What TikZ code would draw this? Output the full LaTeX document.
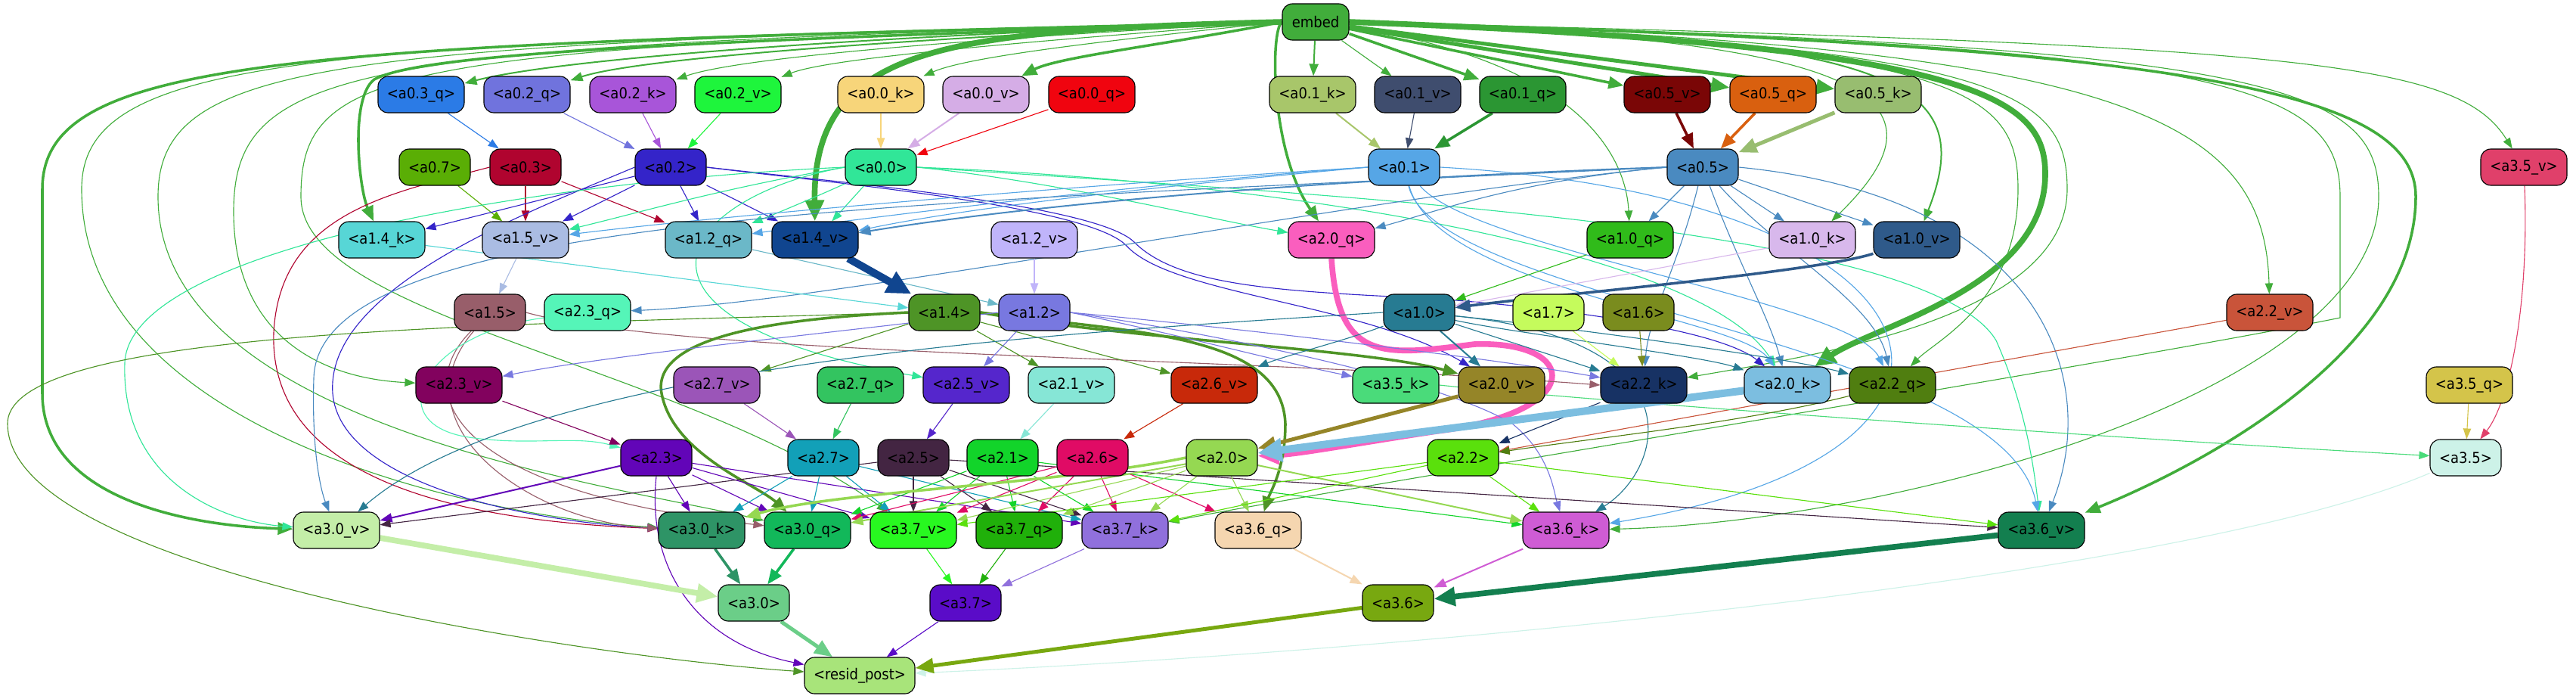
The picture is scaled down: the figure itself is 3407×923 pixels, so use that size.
\documentclass[tikz,border=0pt]{standalone}
\usepackage{fontspec}
\setmainfont{DejaVu Sans}[FakeStretch=0.9]
\usetikzlibrary{arrows.meta}
\pgfdeclarelayer{background}
\pgfsetlayers{background,main}
\definecolor{cembed}{HTML}{41AD3B}
\definecolor{cA03q}{HTML}{2B7BE6}
\definecolor{cA02q}{HTML}{7073DD}
\definecolor{cA02k}{HTML}{A855D9}
\definecolor{cA02v}{HTML}{1EF53C}
\definecolor{cA00k}{HTML}{F7D57A}
\definecolor{cA00v}{HTML}{D5ADE6}
\definecolor{cA00q}{HTML}{F0040F}
\definecolor{cA01k}{HTML}{A8C66A}
\definecolor{cA01v}{HTML}{3F4D6E}
\definecolor{cA01q}{HTML}{2B9633}
\definecolor{cA05v}{HTML}{7A0606}
\definecolor{cA05q}{HTML}{D9600F}
\definecolor{cA05k}{HTML}{98BD70}
\definecolor{cA07}{HTML}{5AAE05}
\definecolor{cA03}{HTML}{B0042F}
\definecolor{cA02}{HTML}{3424C9}
\definecolor{cA00}{HTML}{31E698}
\definecolor{cA01}{HTML}{56A6E6}
\definecolor{cA05}{HTML}{4A8AC0}
\definecolor{cA35v}{HTML}{E0406A}
\definecolor{cA14k}{HTML}{57D6D6}
\definecolor{cA15v}{HTML}{AABCE3}
\definecolor{cA12q}{HTML}{6BB8C8}
\definecolor{cA14v}{HTML}{10458F}
\definecolor{cA12v}{HTML}{C0B4FA}
\definecolor{cA20q}{HTML}{FA5EBE}
\definecolor{cA10q}{HTML}{30BB1A}
\definecolor{cA10k}{HTML}{D8B8EC}
\definecolor{cA10v}{HTML}{2F5A8A}
\definecolor{cA15}{HTML}{985E6A}
\definecolor{cA23q}{HTML}{55F5B8}
\definecolor{cA14}{HTML}{4E9426}
\definecolor{cA12}{HTML}{7878E0}
\definecolor{cA10}{HTML}{277B92}
\definecolor{cA17}{HTML}{C5FB5C}
\definecolor{cA16}{HTML}{7A8C1E}
\definecolor{cA22v}{HTML}{C9543A}
\definecolor{cA23v}{HTML}{82025E}
\definecolor{cA27v}{HTML}{9B55B8}
\definecolor{cA27q}{HTML}{33C460}
\definecolor{cA25v}{HTML}{5526CC}
\definecolor{cA21v}{HTML}{86E6D6}
\definecolor{cA26v}{HTML}{C8290A}
\definecolor{cA35k}{HTML}{4ADB7A}
\definecolor{cA20v}{HTML}{958528}
\definecolor{cA22k}{HTML}{173264}
\definecolor{cA20k}{HTML}{7CBEE0}
\definecolor{cA22q}{HTML}{507E10}
\definecolor{cA35q}{HTML}{D4C44A}
\definecolor{cA23}{HTML}{6205B8}
\definecolor{cA27}{HTML}{12A0B8}
\definecolor{cA25}{HTML}{432542}
\definecolor{cA21}{HTML}{12D42A}
\definecolor{cA26}{HTML}{E00B65}
\definecolor{cA20}{HTML}{95D852}
\definecolor{cA22}{HTML}{5AE00C}
\definecolor{cA35}{HTML}{CDF2E8}
\definecolor{cA30v}{HTML}{C4EEA8}
\definecolor{cA30k}{HTML}{2E9466}
\definecolor{cA30q}{HTML}{12B85A}
\definecolor{cA37v}{HTML}{28F820}
\definecolor{cA37q}{HTML}{20B00A}
\definecolor{cA37k}{HTML}{9070DC}
\definecolor{cA36q}{HTML}{F5D6B0}
\definecolor{cA36k}{HTML}{CF5CD4}
\definecolor{cA36v}{HTML}{137F4F}
\definecolor{cA30}{HTML}{6BCE88}
\definecolor{cA37}{HTML}{5A0CC8}
\definecolor{cA36}{HTML}{78A810}
\definecolor{cresid}{HTML}{A8E47A}
\newcommand{\nlab}[1]{\textless#1\textgreater}
\begin{document}
\begin{tikzpicture}[x=0.25pt,y=0.25pt,
  nd/.style={draw=black, line width=0.28pt, rounded corners=3.3pt, minimum height=12pt, inner sep=0pt, font=\fontsize{5}{6}\selectfont, text=black},
  qw/.style={nd, minimum width=28.5pt},
  hw/.style={nd, minimum width=23.5pt},
  w1/.style={line width=0.28pt, -{Triangle[length=3.5pt,width=2.6pt]}},
  w2/.style={line width=0.5pt, -{Triangle[length=4pt,width=3pt]}},
  w3/.style={line width=0.88pt, -{Triangle[length=5pt,width=4pt]}},
  w5/.style={line width=1.25pt, -{Triangle[length=6pt,width=4.8pt]}},
  w7/.style={line width=1.9pt, -{Triangle[length=7pt,width=6pt]}},
  w10/.style={line width=2.5pt, -{Triangle[length=8pt,width=7.5pt]}}
]
\useasboundingbox (0,0) rectangle (3407,-923);
% nodes
\node[nd, minimum width=22pt, fill=cembed] (embed) at (1740,-29) {embed};
\node[qw, fill=cA03q] (a03q) at (557,-125) {\nlab{a0.3\_q}};
\node[qw, fill=cA02q] (a02q) at (697,-125) {\nlab{a0.2\_q}};
\node[qw, fill=cA02k] (a02k) at (837,-125) {\nlab{a0.2\_k}};
\node[qw, fill=cA02v] (a02v) at (976,-125) {\nlab{a0.2\_v}};
\node[qw, fill=cA00k] (a00k) at (1165,-125) {\nlab{a0.0\_k}};
\node[qw, fill=cA00v] (a00v) at (1304,-125) {\nlab{a0.0\_v}};
\node[qw, fill=cA00q] (a00q) at (1444,-125) {\nlab{a0.0\_q}};
\node[qw, fill=cA01k] (a01k) at (1736,-125) {\nlab{a0.1\_k}};
\node[qw, fill=cA01v] (a01v) at (1875,-125) {\nlab{a0.1\_v}};
\node[qw, fill=cA01q] (a01q) at (2014,-125) {\nlab{a0.1\_q}};
\node[qw, fill=cA05v] (a05v) at (2205,-125) {\nlab{a0.5\_v}};
\node[qw, fill=cA05q] (a05q) at (2345,-125) {\nlab{a0.5\_q}};
\node[qw, fill=cA05k] (a05k) at (2484,-125) {\nlab{a0.5\_k}};
\node[hw, fill=cA07] (a07) at (575,-221) {\nlab{a0.7}};
\node[hw, fill=cA03] (a03) at (695,-221) {\nlab{a0.3}};
\node[hw, fill=cA02] (a02) at (887,-221) {\nlab{a0.2}};
\node[hw, fill=cA00] (a00) at (1165,-221) {\nlab{a0.0}};
\node[hw, fill=cA01] (a01) at (1857,-221) {\nlab{a0.1}};
\node[hw, fill=cA05] (a05) at (2252,-221) {\nlab{a0.5}};
\node[qw, fill=cA35v] (a35v) at (3338,-221) {\nlab{a3.5\_v}};
\node[qw, fill=cA14k] (a14k) at (505,-317) {\nlab{a1.4\_k}};
\node[qw, fill=cA15v] (a15v) at (695,-317) {\nlab{a1.5\_v}};
\node[qw, fill=cA12q] (a12q) at (937,-317) {\nlab{a1.2\_q}};
\node[qw, fill=cA14v] (a14v) at (1078,-317) {\nlab{a1.4\_v}};
\node[qw, fill=cA12v] (a12v) at (1368,-317) {\nlab{a1.2\_v}};
\node[qw, fill=cA20q] (a20q) at (1761,-317) {\nlab{a2.0\_q}};
\node[qw, fill=cA10q] (a10q) at (2156,-317) {\nlab{a1.0\_q}};
\node[qw, fill=cA10k] (a10k) at (2397,-317) {\nlab{a1.0\_k}};
\node[qw, fill=cA10v] (a10v) at (2535,-317) {\nlab{a1.0\_v}};
\node[hw, fill=cA15] (a15) at (648,-413) {\nlab{a1.5}};
\node[qw, fill=cA23q] (a23q) at (777,-413) {\nlab{a2.3\_q}};
\node[hw, fill=cA14] (a14) at (1249,-413) {\nlab{a1.4}};
\node[hw, fill=cA12] (a12) at (1368,-413) {\nlab{a1.2}};
\node[hw, fill=cA10] (a10) at (1877,-413) {\nlab{a1.0}};
\node[hw, fill=cA17] (a17) at (2048,-413) {\nlab{a1.7}};
\node[hw, fill=cA16] (a16) at (2167,-413) {\nlab{a1.6}};
\node[qw, fill=cA22v] (a22v) at (3002,-413) {\nlab{a2.2\_v}};
\node[qw, fill=cA23v] (a23v) at (607,-509) {\nlab{a2.3\_v}};
\node[qw, fill=cA27v] (a27v) at (948,-509) {\nlab{a2.7\_v}};
\node[qw, fill=cA27q] (a27q) at (1138,-509) {\nlab{a2.7\_q}};
\node[qw, fill=cA25v] (a25v) at (1278,-509) {\nlab{a2.5\_v}};
\node[qw, fill=cA21v] (a21v) at (1417,-509) {\nlab{a2.1\_v}};
\node[qw, fill=cA26v] (a26v) at (1606,-509) {\nlab{a2.6\_v}};
\node[qw, fill=cA35k] (a35k) at (1846,-509) {\nlab{a3.5\_k}};
\node[qw, fill=cA20v] (a20v) at (1986,-509) {\nlab{a2.0\_v}};
\node[qw, fill=cA22k] (a22k) at (2174,-509) {\nlab{a2.2\_k}};
\node[qw, fill=cA20k] (a20k) at (2364,-509) {\nlab{a2.0\_k}};
\node[qw, fill=cA22q] (a22q) at (2503,-509) {\nlab{a2.2\_q}};
\node[qw, fill=cA35q] (a35q) at (3266,-509) {\nlab{a3.5\_q}};
\node[hw, fill=cA23] (a23) at (868,-605) {\nlab{a2.3}};
\node[hw, fill=cA27] (a27) at (1089,-605) {\nlab{a2.7}};
\node[hw, fill=cA25] (a25) at (1208,-605) {\nlab{a2.5}};
\node[hw, fill=cA21] (a21) at (1326,-605) {\nlab{a2.1}};
\node[hw, fill=cA26] (a26) at (1445,-605) {\nlab{a2.6}};
\node[hw, fill=cA20] (a20) at (1616,-605) {\nlab{a2.0}};
\node[hw, fill=cA22] (a22) at (1935,-605) {\nlab{a2.2}};
\node[hw, fill=cA35] (a35) at (3261,-605) {\nlab{a3.5}};
\node[qw, fill=cA30v] (a30v) at (445,-701) {\nlab{a3.0\_v}};
\node[qw, fill=cA30k] (a30k) at (928,-701) {\nlab{a3.0\_k}};
\node[qw, fill=cA30q] (a30q) at (1068,-701) {\nlab{a3.0\_q}};
\node[qw, fill=cA37v] (a37v) at (1208,-701) {\nlab{a3.7\_v}};
\node[qw, fill=cA37q] (a37q) at (1348,-701) {\nlab{a3.7\_q}};
\node[qw, fill=cA37k] (a37k) at (1488,-701) {\nlab{a3.7\_k}};
\node[qw, fill=cA36q] (a36q) at (1664,-701) {\nlab{a3.6\_q}};
\node[qw, fill=cA36k] (a36k) at (2071,-701) {\nlab{a3.6\_k}};
\node[qw, fill=cA36v] (a36v) at (2700,-701) {\nlab{a3.6\_v}};
\node[hw, fill=cA30] (a30) at (997,-797) {\nlab{a3.0}};
\node[hw, fill=cA37] (a37) at (1277,-797) {\nlab{a3.7}};
\node[hw, fill=cA36] (a36) at (1849,-797) {\nlab{a3.6}};
\node[nd, minimum width=36.5pt, fill=cresid] (resid) at (1137,-893) {\nlab{resid\_post}};
\begin{pgfonlayer}{background}
\fill[white] (0,0) rectangle (3407,-923);
% ---- embed
\draw[w2,cembed] (embed.west) .. controls (1200,-45) and (750,-75) .. (a03q);
\draw[w2,cembed] (embed.west) .. controls (1250,-48) and (850,-75) .. (a02q);
\draw[w1,cembed] (embed.west) .. controls (1300,-50) and (980,-75) .. (a02k);
\draw[w1,cembed] (embed.west) .. controls (1400,-52) and (1100,-75) .. (a02v);
\draw[w1,cembed] (embed.west) .. controls (1450,-55) and (1280,-75) .. (a00k);
\draw[w3,cembed] (embed.west) .. controls (1550,-58) and (1400,-75) .. (a00v);
\draw[w2,cembed] (embed) -- (a01k);
\draw[w1,cembed] (embed) -- (a01v);
\draw[w3,cembed] (embed) -- (a01q);
\draw[w3,cembed] (embed) -- (a05v);
\draw[w5,cembed] (embed) -- (a05q);
\draw[w5,cembed] (embed) -- (a05k);
\draw[w3,cembed] (embed.west) .. controls (900,-55) and (560,-70) .. (495,-105) .. controls (462,-130) and (475,-250) .. (a14k);
\draw[w7,cembed] (embed.west) .. controls (1250,-40) and (1075,-60) .. (a14v);
\draw[w3,cembed] (embed.west) .. controls (400,-60) and (56,-70) .. (56,-250) -- (56,-520) .. controls (56,-660) and (250,-695) .. (a30v);
\draw[w1,cembed] (embed.west) .. controls (420,-56) and (108,-70) .. (108,-250) .. controls (108,-560) and (600,-680) .. (a30k);
\draw[w1,cembed] (embed.west) .. controls (450,-58) and (209,-75) .. (209,-260) .. controls (209,-560) and (800,-640) .. (a30q);
\draw[w1,cembed] (embed.west) .. controls (480,-60) and (309,-80) .. (309,-280) .. controls (309,-440) and (420,-500) .. (a23v);
\draw[w1,cembed] (embed.west) .. controls (520,-62) and (398,-85) .. (398,-260) .. controls (398,-420) and (900,-480) .. (a37v);
\draw[w3,cembed] (embed.west) .. controls (1680,-40) and (1680,-200) .. (a20q);
\draw[w1,cembed] (embed) .. controls (2080,-80) and (2150,-200) .. (a10q);
\draw[w1,cembed] (embed.east) .. controls (2450,-50) and (2600,-120) .. (a10k);
\draw[w2,cembed] (embed.east) .. controls (2500,-50) and (2620,-100) .. (a10v);
\draw[w7,cembed] (embed.east) .. controls (2620,-60) and (2705,-130) .. (2705,-230) .. controls (2705,-380) and (2480,-430) .. (a20k);
\draw[w1,cembed] (embed.east) .. controls (2600,-60) and (2669,-120) .. (2669,-250) .. controls (2669,-400) and (2560,-450) .. (a22q);
\draw[w1,cembed] (embed.east) .. controls (2650,-60) and (2734,-120) .. (2734,-250) .. controls (2734,-420) and (2400,-470) .. (a22k);
\draw[w1,cembed] (embed.east) .. controls (2800,-60) and (2995,-150) .. (a22v);
\draw[w1,cembed] (embed.east) .. controls (2950,-60) and (3095,-110) .. (3095,-260) -- (3095,-420) .. controls (2800,-480) and (1800,-640) .. (a37k);
\draw[w1,cembed] (embed.east) .. controls (3000,-60) and (3146,-110) .. (3146,-260) .. controls (3146,-520) and (2500,-690) .. (a36k);
\draw[w3,cembed] (embed.east) .. controls (2900,-60) and (3195,-120) .. (3195,-260) .. controls (3195,-470) and (2900,-620) .. (a36v);
\draw[w1,cembed] (embed.east) .. controls (3050,-60) and (3250,-80) .. (a35v);
% ---- layer 0
\draw[w1,cA03q] (a03q) -- (a03);
\draw[w1,cA02q] (a02q) -- (a02);
\draw[w1,cA02k] (a02k) -- (a02);
\draw[w1,cA02v] (a02v) -- (a02);
\draw[w1,cA00k] (a00k) -- (a00);
\draw[w2,cA00v] (a00v) -- (a00);
\draw[w1,cA00q] (a00q) -- (a00);
\draw[w2,cA01k] (a01k) -- (a01);
\draw[w1,cA01v] (a01v) -- (a01);
\draw[w3,cA01q] (a01q) -- (a01);
\draw[w3,cA05v] (a05v) -- (a05);
\draw[w3,cA05q] (a05q) -- (a05);
\draw[w5,cA05k] (a05k) -- (a05);
\draw[w1,cA07] (a07) -- (a15v);
\draw[w1,cA03] (a03) -- (a15v);
\draw[w1,cA03] (a03) -- (a12q);
\draw[w1,cA03] (a03.west) .. controls (520,-255) and (370,-280) .. (362,-440) .. controls (355,-650) and (650,-690) .. (a30k);
\draw[w1,cA02] (a02) -- (a14k);
\draw[w1,cA02] (a02) -- (a15v);
\draw[w1,cA02] (a02) -- (a12q);
\draw[w1,cA02] (a02) -- (a14v);
\draw[w1,cA02] (a02.west) .. controls (700,-280) and (430,-380) .. (440,-520) .. controls (450,-640) and (700,-690) .. (a30k);
\draw[w1,cA02] (a02.east) .. controls (1100,-240) and (1450,-270) .. (1500,-320) .. controls (1560,-380) and (1700,-385) .. (1900,-395) .. controls (2100,-410) and (2280,-440) .. (a20k);
\draw[w1,cA02] (a02.east) .. controls (1100,-242) and (1440,-272) .. (1490,-325) .. controls (1550,-390) and (1800,-400) .. (a20v);
\draw[w1,cA00] (a00.west) .. controls (950,-250) and (850,-280) .. (a15v);
\draw[w1,cA00] (a00) .. controls (1080,-260) and (1020,-285) .. (a12q);
\draw[w1,cA00] (a00) -- (a14v);
\draw[w1,cA00] (a00.east) .. controls (1400,-240) and (1600,-290) .. (a20q);
\draw[w1,cA00] (a00.west) .. controls (700,-240) and (170,-330) .. (165,-480) .. controls (160,-640) and (300,-690) .. (a30v);
\draw[w1,cA00] (a00.east) .. controls (1800,-260) and (2550,-300) .. (2640,-450) .. controls (2680,-540) and (2690,-620) .. (a36v);
\draw[w1,cA00] (a00.east) .. controls (1700,-240) and (2250,-330) .. (a20k);
\draw[w1,cA00] (a00.west) .. controls (900,-260) and (780,-420) .. (a25v);
\draw[w1,cA01] (a01.west) .. controls (1600,-240) and (1300,-270) .. (a14v);
\draw[w1,cA01] (a01.west) .. controls (1500,-240) and (1000,-280) .. (a15v);
\draw[w1,cA01] (a01.west) .. controls (1550,-240) and (1200,-280) .. (a12q);
\draw[w1,cA01] (a01) .. controls (1900,-380) and (2300,-420) .. (a20k);
\draw[w1,cA01] (a01) .. controls (1950,-330) and (2450,-400) .. (a22q);
\draw[w1,cA01] (a01.east) .. controls (2600,-260) and (2700,-600) .. (a36k);
\draw[w1,cA01] (a01) .. controls (1900,-400) and (2650,-450) .. (a36v);
\draw[w2,cA05] (a05.west) .. controls (1800,-235) and (1400,-265) .. (a14v);
\draw[w1,cA05] (a05.west) .. controls (2000,-240) and (1900,-280) .. (a20q);
\draw[w1,cA05] (a05) -- (a10q);
\draw[w1,cA05] (a05) -- (a10k);
\draw[w1,cA05] (a05) -- (a10v);
\draw[w1,cA05] (a05.west) .. controls (1800,-260) and (1100,-400) .. (a23q);
\draw[w1,cA05] (a05) .. controls (2300,-350) and (2340,-420) .. (a20k);
\draw[w1,cA05] (a05) .. controls (2350,-330) and (2480,-400) .. (a22q);
\draw[w1,cA05] (a05) .. controls (2220,-350) and (2180,-420) .. (a22k);
\draw[w1,cA05] (a05.east) .. controls (2700,-260) and (2780,-500) .. (a36v);
\draw[w1,cA05] (a05.west) .. controls (1200,-270) and (420,-280) .. (415,-500) .. controls (412,-600) and (425,-650) .. (a30v);
% ---- layer 1
\draw[w1,cA35v] (a35v) .. controls (3345,-400) and (3320,-530) .. (a35);
\draw[w1,cA14k] (a14k) -- (a14);
\draw[w1,cA15v] (a15v) -- (a15);
\draw[w1,cA12q] (a12q) -- (a12);
\draw[w10,cA14v] (a14v) -- (a14);
\draw[w1,cA12v] (a12v) -- (a12);
\draw[w7,cA20q] (a20q.south) .. controls (1770,-480) and (1830,-470) .. (1950,-455) .. controls (2090,-450) and (2100,-545) .. (1900,-570) .. controls (1800,-585) and (1720,-600) .. (a20);
\draw[w1,cA10q] (a10q) -- (a10);
\draw[w1,cA10k] (a10k) -- (a10);
\draw[w3,cA10v] (a10v) .. controls (2400,-360) and (2050,-390) .. (a10);
\draw[w1,cA15] (a15.east) .. controls (900,-470) and (1600,-470) .. (a22k.west);
\draw[w1,cA15] (a15) .. controls (540,-520) and (600,-650) .. (a30q);
\draw[w1,cA15] (a15) .. controls (520,-560) and (700,-690) .. (a30k);
\draw[w1,cA23q] (a23q) .. controls (560,-440) and (500,-560) .. (620,-578) .. controls (700,-590) and (760,-575) .. (a23);
\draw[w1,cA14] (a14) -- (a27v);
\draw[w1,cA14] (a14) -- (a21v);
\draw[w1,cA14] (a14) -- (a26v);
\draw[w3,cA14] (a14.east) .. controls (1500,-450) and (1800,-460) .. (a20v);
\draw[w3,cA14] (a14.west) .. controls (1050,-420) and (860,-440) .. (875,-520) .. controls (890,-600) and (1000,-640) .. (a30q);
\draw[w3,cA14] (a14.east) .. controls (1500,-440) and (1695,-440) .. (1700,-560) .. controls (1700,-620) and (1680,-650) .. (a36q);
\draw[w1,cA14] (a14.west) .. controls (700,-430) and (10,-430) .. (10,-560) .. controls (10,-760) and (800,-870) .. (resid);
\draw[w1,cA12] (a12.west) .. controls (1100,-440) and (800,-470) .. (a23v);
\draw[w1,cA12] (a12) -- (a25v);
\draw[w1,cA12] (a12.east) .. controls (1550,-440) and (1700,-480) .. (a35k);
\draw[w1,cA12] (a12.east) .. controls (1600,-430) and (1950,-470) .. (a22k);
\draw[w1,cA12] (a12.east) .. controls (1600,-440) and (1900,-500) .. (2000,-560) .. controls (2050,-600) and (2055,-650) .. (a36k);
\draw[w2,cA10] (a10) -- (a20v);
\draw[w1,cA10] (a10) .. controls (1780,-450) and (1700,-470) .. (a26v);
\draw[w1,cA10] (a10) -- (a22k);
\draw[w1,cA10] (a10) .. controls (2000,-440) and (2250,-470) .. (a20k);
\draw[w1,cA10] (a10) .. controls (2050,-430) and (2350,-470) .. (a22q);
\draw[w1,cA10] (a10.west) .. controls (1400,-440) and (700,-480) .. (a30v);
\draw[w1,cA10] (a10) .. controls (2250,-450) and (2200,-620) .. (a36k);
\draw[w1,cA17] (a17) -- (a22k);
\draw[w1,cA16] (a16) -- (a22k);
\draw[w1,cA22v] (a22v) -- (a22);
% ---- layer 2 inputs
\draw[w1,cA23v] (a23v) -- (a23);
\draw[w1,cA27v] (a27v) -- (a27);
\draw[w1,cA27q] (a27q) -- (a27);
\draw[w1,cA25v] (a25v) -- (a25);
\draw[w1,cA21v] (a21v) -- (a21);
\draw[w1,cA26v] (a26v) -- (a26);
\draw[w1,cA35k] (a35k.east) .. controls (2100,-530) and (2800,-580) .. (a35);
\draw[w5,cA20v] (a20v) -- (a20);
\draw[w1,cA22k] (a22k) -- (a22);
\draw[w10,cA20k] (a20k) -- (a20);
\draw[w1,cA22q] (a22q) .. controls (2300,-560) and (2100,-580) .. (a22);
\draw[w1,cA35q] (a35q) -- (a35);
% ---- layer 2 outputs
\draw[w2,cA23] (a23) -- (a30v);
\draw[w1,cA23] (a23) -- (a30k);
\draw[w1,cA23] (a23) -- (a30q);
\draw[w1,cA23] (a23) -- (a37v);
\draw[w1,cA23] (a23) -- (a37k);
\draw[w1,cA23] (a23.south) .. controls (855,-750) and (920,-850) .. (resid);
\draw[w1,cA27] (a27) -- (a30k);
\draw[w1,cA27] (a27) -- (a30q);
\draw[w1,cA27] (a27) -- (a37v);
\draw[w1,cA27] (a27) -- (a37k);
\draw[w1,cA25] (a25) -- (a30v);
\draw[w1,cA25] (a25) -- (a37v);
\draw[w1,cA25] (a25) -- (a37q);
\draw[w1,cA25] (a25) -- (a37k);
\draw[w1,cA25] (a25) -- (a36v);
\draw[w1,cA21] (a21) -- (a30q);
\draw[w1,cA21] (a21) -- (a37v);
\draw[w1,cA21] (a21) -- (a37q);
\draw[w1,cA21] (a21) -- (a37k);
\draw[w1,cA21] (a21) -- (a36k);
\draw[w1,cA26] (a26) -- (a30q);
\draw[w1,cA26] (a26) -- (a37v);
\draw[w1,cA26] (a26) -- (a37q);
\draw[w1,cA26] (a26) -- (a37k);
\draw[w1,cA26] (a26) -- (a36q);
\draw[w3,cA20] (a20.west) .. controls (1400,-640) and (1100,-650) .. (a30k);
\draw[w2,cA20] (a20) -- (a30q);
\draw[w1,cA20] (a20) -- (a37v);
\draw[w1,cA20] (a20) -- (a37q);
\draw[w1,cA20] (a20) -- (a37k);
\draw[w1,cA20] (a20) -- (a36q);
\draw[w2,cA20] (a20) -- (a36k);
\draw[w1,cA22] (a22) -- (a37v);
\draw[w1,cA22] (a22) -- (a37k);
\draw[w1,cA22] (a22) -- (a36k);
\draw[w1,cA22] (a22) -- (a36v);
\draw[w1,cA35] (a35) .. controls (2900,-760) and (1900,-860) .. (resid);
% ---- layer 3
\draw[w7,cA30v] (a30v) -- (a30);
\draw[w3,cA30k] (a30k) -- (a30);
\draw[w3,cA30q] (a30q) -- (a30);
\draw[w1,cA37v] (a37v) -- (a37);
\draw[w1,cA37q] (a37q) -- (a37);
\draw[w1,cA37k] (a37k) -- (a37);
\draw[w2,cA36q] (a36q) -- (a36);
\draw[w2,cA36k] (a36k) -- (a36);
\draw[w7,cA36v] (a36v) -- (a36);
\draw[w5,cA30] (a30) -- (resid);
\draw[w1,cA37] (a37) -- (resid);
\draw[w5,cA36] (a36) -- (resid);
\end{pgfonlayer}
\end{tikzpicture}
\end{document}
